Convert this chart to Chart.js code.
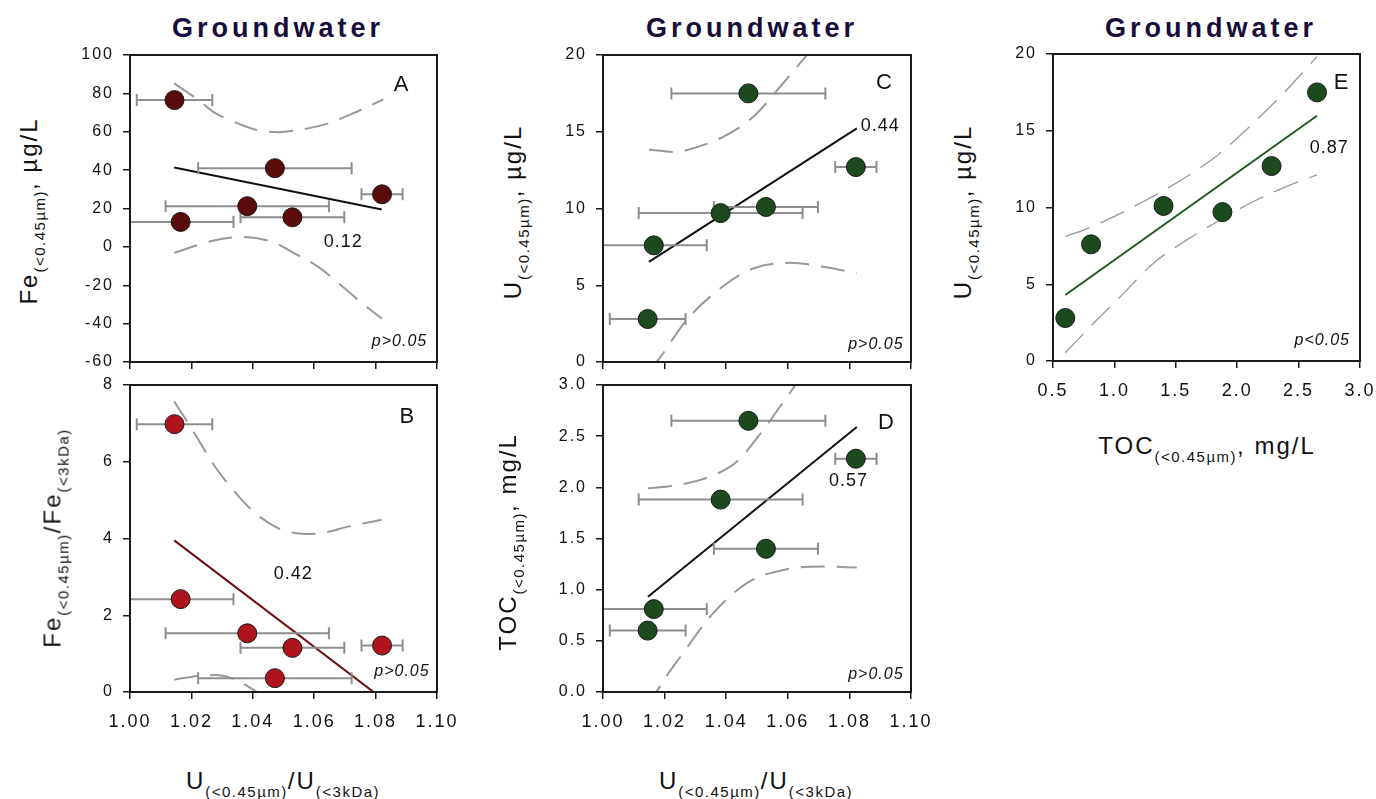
<!DOCTYPE html>
<html><head><meta charset="utf-8">
<script src="https://cdn.jsdelivr.net/npm/chart.js@4.4.1/dist/chart.umd.min.js"></script>
<style>
body{margin:0;background:#fff;}
#page{position:relative;width:1376px;height:799px;overflow:hidden;background:#fff;font-family:"Liberation Sans",Arial,sans-serif;color:#111;}
canvas{position:absolute;}
.title{position:absolute;font-weight:bold;font-size:27px;line-height:27px;letter-spacing:4px;color:#170c3a;transform:translateX(-50%);white-space:nowrap;}
.xt{position:absolute;font-size:24px;line-height:24px;letter-spacing:2px;transform:translateX(-50%);white-space:nowrap;}
.yt{position:absolute;font-size:24px;line-height:24px;letter-spacing:2px;transform:translate(-50%,-50%) rotate(-90deg);white-space:nowrap;}
.s{font-size:15px;position:relative;top:8px;letter-spacing:1.5px;}
</style></head>
<body><div id="page">
<div class="title" style="left:278px;top:15px;">Groundwater</div>
<div class="title" style="left:752px;top:15px;">Groundwater</div>
<div class="title" style="left:1211px;top:15px;">Groundwater</div>

<canvas id="cA" width="410" height="345" style="left:60px;top:40px;"></canvas>
<canvas id="cB" width="410" height="370" style="left:60px;top:375px;"></canvas>
<canvas id="cC" width="410" height="345" style="left:533px;top:40px;"></canvas>
<canvas id="cD" width="410" height="370" style="left:533px;top:375px;"></canvas>
<canvas id="cE" width="410" height="380" style="left:983px;top:40px;"></canvas>

<div class="yt" style="left:30px;top:211px;">Fe<span class="s">(&lt;0.45µm)</span>, µg/L</div>
<div class="yt" style="left:54px;top:538px;">Fe<span class="s">(&lt;0.45µm)</span>/Fe<span class="s">(&lt;3kDa)</span></div>
<div class="yt" style="left:514px;top:212px;">U<span class="s">(&lt;0.45µm)</span>, µg/L</div>
<div class="yt" style="left:509px;top:542px;">TOC<span class="s">(&lt;0.45µm)</span>, mg/L</div>
<div class="yt" style="left:964px;top:212px;">U<span class="s">(&lt;0.45µm)</span>, µg/L</div>

<div class="xt" style="left:283px;top:769px;">U<span class="s">(&lt;0.45µm)</span>/U<span class="s">(&lt;3kDa)</span></div>
<div class="xt" style="left:756px;top:769px;">U<span class="s">(&lt;0.45µm)</span>/U<span class="s">(&lt;3kDa)</span></div>
<div class="xt" style="left:1207px;top:434px;">TOC<span class="s">(&lt;0.45µm)</span>, mg/L</div>
</div>
<script>
// ---------- data ----------
const uRatio    = [1.0145, 1.0165, 1.0382, 1.0472, 1.0529, 1.0821];   // U(<0.45µm)/U(<3kDa)
const uRatioErr = [0.0123, 0.0172, 0.0266, 0.0250, 0.0169, 0.0067];
const feTotal   = [76.5, 13.0, 21.2, 41.0, 15.4, 27.4];               // Fe(<0.45µm), µg/L
const feRatio   = [6.98, 2.42, 1.53, 0.36, 1.15, 1.21];               // Fe(<0.45µm)/Fe(<3kDa)
const uTotal    = [2.8, 7.6, 9.7, 17.5, 10.1, 12.7];                  // U(<0.45µm), µg/L
const tocTotal  = [0.60, 0.81, 1.88, 2.65, 1.40, 2.28];               // TOC(<0.45µm), mg/L

// regression lines (end points)
const fitAx = [1.0144, 1.0820], fitAy = [41.4, 19.5];
const fitBx = [1.0144, 1.0823], fitBy = [3.95, -0.18];
const fitCx = [1.0149, 1.0824], fitCy = [6.52, 15.22];
const fitDx = [1.0146, 1.0824], fitDy = [0.93, 2.59];
const fitEx = [0.60, 2.65],     fitEy = [4.30, 15.98];

// confidence bands
const upAx = [1.0144,1.0223,1.0271,1.0364,1.0407,1.0483,1.0548,1.0646,1.0744,1.0825];
const upAy = [85.2,76.5,70.4,63.5,61.2,59.8,60.9,64.4,70.8,76.9];
const loAx = [1.0144,1.0277,1.0364,1.0472,1.0527,1.0613,1.0700,1.0744,1.0820];
const loAy = [-3.1,3.5,5.2,2.1,-2.6,-10.4,-21.7,-27.8,-37.4];
const upBx = [1.0144,1.0190,1.0223,1.0277,1.0309,1.0385,1.0429,1.0494,1.0570,1.0624,1.0711,1.0820];
const upBy = [7.57,7.0,6.57,5.87,5.53,4.83,4.53,4.23,4.12,4.14,4.31,4.49];
const loBx = [1.0144,1.0223,1.0277,1.0331,1.0375,1.0401,1.0440];
const loBy = [0.32,0.42,0.44,0.36,0.19,0.06,-0.15];
const upCx = [1.0149,1.0236,1.0271,1.0390,1.0488,1.0575,1.0664,1.0700];
const upCy = [13.85,13.68,13.8,14.67,15.98,17.93,20.06,21.0];
const loCx = [1.0149,1.0174,1.0271,1.0390,1.0488,1.0607,1.0716,1.0824];
const loCy = [-0.5,0,2.72,4.94,6.09,6.46,6.2,5.77];
const upDx = [1.0146,1.0239,1.0347,1.0434,1.0520,1.0575,1.0624,1.0660];
const upDy = [1.99,2.02,2.105,2.25,2.56,2.79,3.0,3.2];
const loDx = [1.0150,1.0174,1.0260,1.0358,1.0467,1.0597,1.0716,1.0824];
const loDy = [-0.15,0,0.38,0.77,1.064,1.2,1.226,1.216];
const upEx = [0.60,0.83,1.237,1.59,1.861,2.132,2.404,2.65];
const upEy = [8.1,8.8,10.39,12.02,13.54,15.5,17.67,19.84];
const loEx = [0.60,0.83,1.048,1.318,1.59,1.861,2.132,2.404,2.65];
const loEy = [0.54,2.46,4.19,6.37,7.89,9.19,10.39,11.37,12.13];

// tick labels
const ratioTicks = [1.00,1.02,1.04,1.06,1.08,1.10];
const feTicks    = [-60,-40,-20,0,20,40,60,80,100];
const feRTicks   = [0,2,4,6,8];
const uTicks     = [0,5,10,15,20];
const tocYTicks  = [0.0,0.5,1.0,1.5,2.0,2.5,3.0];
const tocXTicks  = [0.5,1.0,1.5,2.0,2.5,3.0];

// r values and p labels
const rLabels = {A:'0.12', B:'0.42', C:'0.44', D:'0.57', E:'0.87'};
const pLabels = {A:'p>0.05', B:'p>0.05', C:'p>0.05', D:'p>0.05', E:'p<0.05'};

// ---------- drawing ----------
Chart.defaults.font.family = '"Liberation Sans", Arial, sans-serif';
Chart.defaults.color = '#111';
const zip = (xs, ys) => xs.map((x, i) => ({x, y: ys[i]}));
const extras = {};

const deco = {
  id: 'deco',
  beforeDraw(chart) { chart.ctx.letterSpacing = '2px'; },
  beforeDatasetDraw(chart, args) {
    if (args.index !== 0) return;
    const e = extras[chart.canvas.id]; if (!e || !e.err) return;
    const ctx = chart.ctx, xs = chart.scales.x, ys = chart.scales.y, ca = chart.chartArea;
    ctx.save();
    ctx.beginPath(); ctx.rect(ca.left, ca.top, ca.width, ca.height); ctx.clip();
    ctx.strokeStyle = '#8e8e8e'; ctx.lineWidth = 2;
    chart.data.datasets[0].data.forEach((p, i) => {
      const x0 = xs.getPixelForValue(p.x - e.err[i]), x1 = xs.getPixelForValue(p.x + e.err[i]);
      const y = ys.getPixelForValue(p.y);
      ctx.beginPath();
      ctx.moveTo(x0, y); ctx.lineTo(x1, y);
      ctx.moveTo(x0, y - 6); ctx.lineTo(x0, y + 6);
      ctx.moveTo(x1, y - 6); ctx.lineTo(x1, y + 6);
      ctx.stroke();
    });
    ctx.restore();
  },
  afterDraw(chart) {
    const ctx = chart.ctx, ca = chart.chartArea, xs = chart.scales.x, ys = chart.scales.y;
    const e = extras[chart.canvas.id];
    ctx.save();
    ctx.strokeStyle = '#1a1a1a'; ctx.lineWidth = 2;
    ctx.strokeRect(ca.left, ca.top, ca.width, ca.height);
    (e.notes || []).forEach(n => {
      ctx.font = n.font; ctx.fillStyle = '#111';
      ctx.textAlign = n.align || 'center'; ctx.textBaseline = 'middle';
      ctx.letterSpacing = n.sp || '1px';
      ctx.fillText(n.text, xs.getPixelForValue(n.x), ys.getPixelForValue(n.y));
    });
    ctx.restore();
    ctx.letterSpacing = '0px';
  }
};

function axis(min, max, ticks, fmt, size, showLabels, fitFn) {
  return {
    type: 'linear', min, max,
    afterBuildTicks: s => { s.ticks = ticks.map(v => ({value: v})); },
    afterFit: fitFn,
    ticks: {display: showLabels, callback: v => fmt(v), font: {size}, color: '#111',
            padding: 0, autoSkip: false, maxRotation: 0},
    grid: {drawOnChartArea: false, drawTicks: true, tickLength: 7, color: '#1a1a1a', lineWidth: 1.5},
    border: {display: false}
  };
}

function panel(id, o) {
  extras[id] = {err: o.err, notes: o.notes};
  const datasets = [
    {type: 'scatter', data: zip(o.px, o.py), pointRadius: 9.5, pointHoverRadius: 9.5,
     backgroundColor: o.pc, borderColor: '#1a1a1a', borderWidth: 1},
    {type: 'line', data: zip(o.fx, o.fy), borderColor: o.fc, borderWidth: o.fw || 2,
     pointRadius: 0, fill: false},
    {type: 'line', data: zip(o.ux, o.uy), borderColor: '#999', borderWidth: o.cw,
     borderDash: o.dash, pointRadius: 0, fill: false, cubicInterpolationMode: 'monotone'},
    {type: 'line', data: zip(o.lx, o.ly), borderColor: '#999', borderWidth: o.cw,
     borderDash: o.dash, pointRadius: 0, fill: false, cubicInterpolationMode: 'monotone'}
  ];
  const x = axis(o.xmin, o.xmax, o.xt, o.xf, 18, o.showX,
    s => { s.height = o.xh; s.paddingLeft = 0; s.paddingRight = 0; });
  x.ticks.padding = 12;
  const y = axis(o.ymin, o.ymax, o.yt, o.yf, 16, true,
    s => { s.width = 70; s.paddingTop = 0; s.paddingBottom = 0; });
  y.ticks.padding = 9;
  const cv = document.getElementById(id);
  const L = parseFloat(cv.style.left), T = parseFloat(cv.style.top);
  const pad = {left: 0, top: o.area[1] - T, right: L + cv.width - o.area[2], bottom: 0};
  new Chart(cv, {
    type: 'scatter',
    data: {datasets},
    options: {
      responsive: false, animation: false, events: [],
      layout: {autoPadding: false, padding: pad},
      plugins: {legend: {display: false}, tooltip: {enabled: false}},
      scales: {x, y}
    },
    plugins: [deco]
  });
}

const f2 = v => v.toFixed(2), f1 = v => v.toFixed(1), f0 = v => String(v);
const letterFont = '22px "Liberation Sans", Arial, sans-serif';
const rFont = '18px "Liberation Sans", Arial, sans-serif';
const pFont = 'italic 16px "Liberation Sans", Arial, sans-serif';

panel('cA', {px: uRatio, py: feTotal, pc: '#5a0c0c', err: uRatioErr,
  fx: fitAx, fy: fitAy, fc: '#111', ux: upAx, uy: upAy, lx: loAx, ly: loAy, cw: 2, dash: [24, 12],
  xmin: 1.0, xmax: 1.1, xt: ratioTicks, xf: f2, showX: false,
  ymin: -60, ymax: 100, yt: feTicks, yf: f0, xh: 23, area: [130, 55, 437, 362],
  notes: [{text: 'A', x: 1.0885, y: 84.3, font: letterFont},
          {text: rLabels.A, x: 1.0695, y: 2.6, font: rFont},
          {text: pLabels.A, x: 1.0968, y: -49.6, font: pFont, align: 'right'}]});

panel('cB', {px: uRatio, py: feRatio, pc: '#ad141c', err: uRatioErr,
  fx: fitBx, fy: fitBy, fc: '#6e0f0f', ux: upBx, uy: upBy, lx: loBx, ly: loBy, cw: 2, dash: [24, 12],
  xmin: 1.0, xmax: 1.1, xt: ratioTicks, xf: f2, showX: true,
  ymin: 0, ymax: 8, yt: feRTicks, yf: f0, xh: 53, area: [130, 385, 437, 692],
  notes: [{text: 'B', x: 1.0903, y: 7.17, font: letterFont},
          {text: rLabels.B, x: 1.0532, y: 3.08, font: rFont},
          {text: pLabels.B, x: 1.0976, y: 0.54, font: pFont, align: 'right'}]});

panel('cC', {px: uRatio, py: uTotal, pc: '#1a4a1e', err: uRatioErr,
  fx: fitCx, fy: fitCy, fc: '#111', ux: upCx, uy: upCy, lx: loCx, ly: loCy, cw: 2, dash: [24, 12],
  xmin: 1.0, xmax: 1.1, xt: ratioTicks, xf: f2, showX: false,
  ymin: 0, ymax: 20, yt: uTicks, yf: f0, xh: 23, area: [603, 55, 911, 362],
  notes: [{text: 'C', x: 1.0914, y: 18.2, font: letterFont},
          {text: rLabels.C, x: 1.090, y: 15.37, font: rFont},
          {text: pLabels.C, x: 1.0976, y: 1.15, font: pFont, align: 'right'}]});

panel('cD', {px: uRatio, py: tocTotal, pc: '#1a4a1e', err: uRatioErr,
  fx: fitDx, fy: fitDy, fc: '#111', ux: upDx, uy: upDy, lx: loDx, ly: loDy, cw: 2, dash: [24, 12],
  xmin: 1.0, xmax: 1.1, xt: ratioTicks, xf: f2, showX: true,
  ymin: 0, ymax: 3, yt: tocYTicks, yf: f1, xh: 53, area: [603, 385, 911, 692],
  notes: [{text: 'D', x: 1.092, y: 2.63, font: letterFont},
          {text: rLabels.D, x: 1.0797, y: 2.06, font: rFont},
          {text: pLabels.D, x: 1.0976, y: 0.17, font: pFont, align: 'right'}]});

panel('cE', {px: tocTotal, py: uTotal, pc: '#1a4a1e', err: null,
  fx: fitEx, fy: fitEy, fc: '#1e5a22', ux: upEx, uy: upEy, lx: loEx, ly: loEy, cw: 1.3, dash: [26, 12],
  xmin: 0.5, xmax: 3.0, xt: tocXTicks, xf: f1, showX: true,
  ymin: 0, ymax: 20, yt: uTicks, yf: f0, xh: 59, area: [1053, 54, 1360, 361],
  notes: [{text: 'E', x: 2.851, y: 18.1, font: letterFont},
          {text: rLabels.E, x: 2.75, y: 13.87, font: rFont},
          {text: pLabels.E, x: 2.918, y: 1.32, font: pFont, align: 'right'}]});
</script>
</body></html>
